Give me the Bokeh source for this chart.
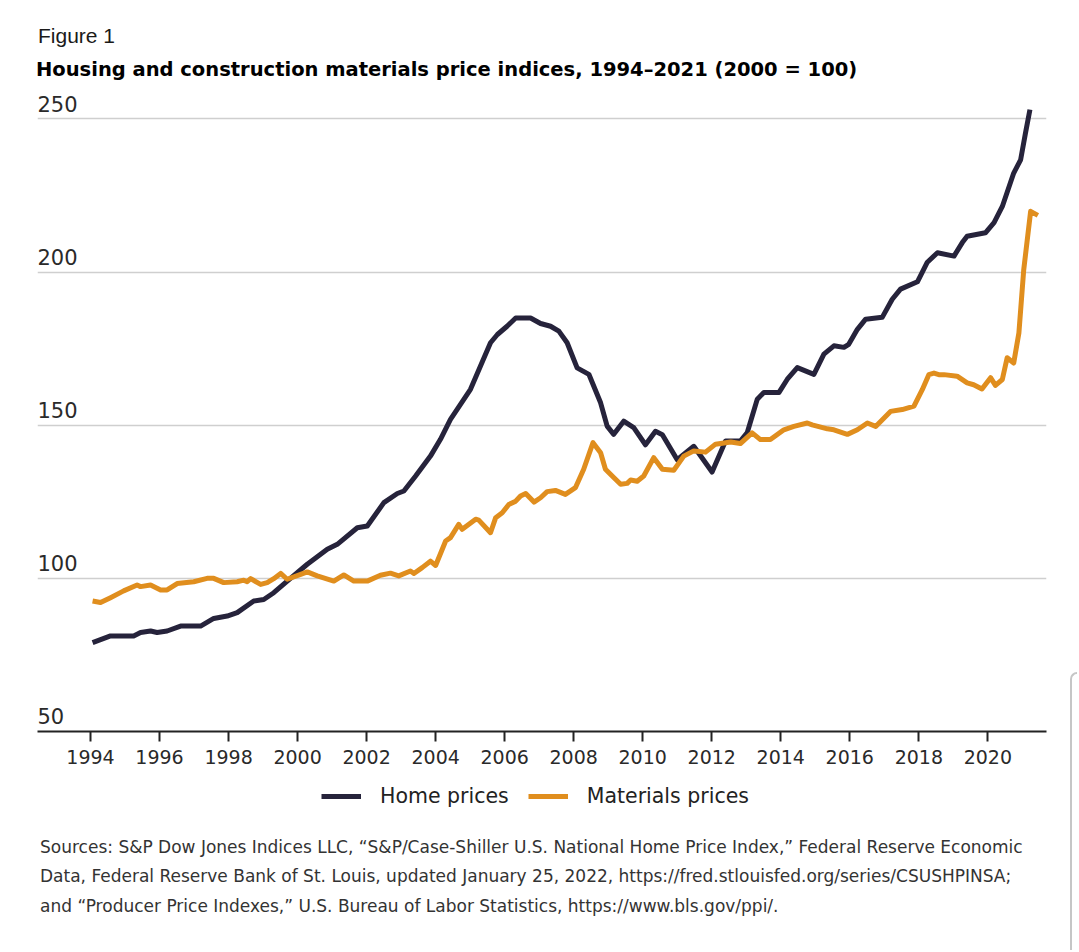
from bokeh.plotting import figure
from bokeh.models import Div, Range1d, FixedTicker, Legend, LegendItem, ColumnDataSource
from bokeh.layouts import column
from bokeh.core.properties import value
from bokeh.embed import file_html
from bokeh.resources import INLINE

# ---------------- data ----------------
home_years = [1994.06, 1994.58, 1995.25, 1995.45, 1995.74, 1995.93, 1996.22, 1996.61, 1997.19, 1997.57,
              1997.96, 1998.25, 1998.73, 1999.02, 1999.31, 1999.70, 2000.28, 2000.86, 2001.15, 2001.73,
              2002.02, 2002.50, 2002.89, 2003.08, 2003.42, 2003.85, 2004.14, 2004.43, 2004.72, 2005.01,
              2005.30, 2005.59, 2005.79, 2006.07, 2006.32, 2006.75, 2007.04, 2007.33, 2007.57, 2007.81,
              2008.10, 2008.44, 2008.78, 2008.97, 2009.16, 2009.45, 2009.74, 2010.08, 2010.37, 2010.57,
              2011.00, 2011.48, 2012.01, 2012.40, 2012.83, 2013.03, 2013.32, 2013.51, 2013.95, 2014.19,
              2014.48, 2014.96, 2015.25, 2015.54, 2015.83, 2015.97, 2016.22, 2016.46, 2016.94, 2017.23,
              2017.47, 2017.96, 2018.24, 2018.54, 2019.02, 2019.26, 2019.40, 2019.93, 2020.18, 2020.42,
              2020.75, 2020.95, 2021.09, 2021.22]
home_prices = [79.0, 81.2, 81.2, 82.3, 82.8, 82.3, 82.8, 84.4, 84.4, 86.9,
               87.7, 88.8, 92.6, 93.1, 95.3, 99.1, 104.6, 109.5, 111.1, 116.5,
               117.1, 124.7, 127.7, 128.5, 133.4, 139.9, 145.4, 151.9, 156.8, 161.7,
               169.3, 176.9, 179.6, 182.3, 185.0, 185.0, 183.2, 182.3, 180.7, 176.9,
               168.7, 166.6, 157.3, 149.7, 147.0, 151.3, 149.2, 143.6, 148.0, 146.9,
               138.7, 143.1, 134.7, 144.8, 144.8, 147.6, 158.5, 160.7, 160.7, 165.0,
               168.8, 166.6, 173.2, 175.9, 175.4, 176.4, 181.3, 184.6, 185.2, 191.1,
               194.4, 196.8, 203.1, 206.3, 205.2, 209.6, 211.7, 212.8, 216.1, 221.4,
               232.3, 236.6, 245.3, 253.0]

mat_years = [1994.06, 1994.29, 1994.58, 1994.96, 1995.35, 1995.45, 1995.74, 1996.03, 1996.22, 1996.51,
             1996.99, 1997.38, 1997.57, 1997.86, 1998.25, 1998.44, 1998.54, 1998.64, 1998.93, 1999.12,
             1999.31, 1999.51, 1999.70, 2000.09, 2000.28, 2000.57, 2001.05, 2001.34, 2001.63, 2002.02,
             2002.40, 2002.69, 2002.93, 2003.27, 2003.37, 2003.61, 2003.85, 2004.00, 2004.29, 2004.43,
             2004.67, 2004.77, 2005.16, 2005.25, 2005.59, 2005.74, 2005.93, 2006.12, 2006.32, 2006.46,
             2006.61, 2006.85, 2007.04, 2007.23, 2007.47, 2007.76, 2008.05, 2008.29, 2008.56, 2008.78,
             2008.92, 2009.16, 2009.36, 2009.55, 2009.65, 2009.84, 2010.03, 2010.32, 2010.57, 2010.90,
             2011.19, 2011.48, 2011.82, 2012.11, 2012.55, 2012.83, 2013.17, 2013.41, 2013.70, 2014.09,
             2014.38, 2014.77, 2014.91, 2015.35, 2015.54, 2015.93, 2016.22, 2016.51, 2016.75, 2017.18,
             2017.52, 2017.86, 2018.10, 2018.29, 2018.44, 2018.58, 2018.73, 2019.11, 2019.40, 2019.59,
             2019.83, 2020.08, 2020.22, 2020.42, 2020.56, 2020.75, 2020.90, 2021.04, 2021.24, 2021.45]
mat_prices = [92.6, 92.1, 93.7, 95.9, 97.8, 97.3, 97.8, 96.2, 96.2, 98.3,
              98.9, 100.0, 100.0, 98.6, 98.9, 99.4, 98.9, 99.9, 98.0, 98.6,
              99.9, 101.6, 99.7, 101.3, 102.1, 100.8, 99.1, 101.1, 99.1, 99.1,
              101.0, 101.7, 100.8, 102.4, 101.6, 103.5, 105.6, 104.2, 112.2, 113.3,
              117.6, 116.0, 119.3, 119.0, 114.9, 119.8, 121.4, 124.1, 125.2, 126.9,
              127.7, 124.9, 126.3, 128.3, 128.7, 127.4, 129.6, 135.6, 144.3, 141.0,
              135.6, 132.9, 130.7, 131.0, 132.1, 131.7, 133.4, 139.4, 135.6, 135.3,
              139.9, 141.6, 141.2, 143.8, 144.5, 144.0, 147.5, 145.3, 145.3, 148.5,
              149.6, 150.7, 150.1, 148.8, 148.5, 147.0, 148.5, 150.7, 149.6, 154.5,
              155.1, 156.2, 161.6, 166.5, 167.0, 166.5, 166.5, 166.0, 163.8, 163.2,
              161.8, 165.5, 163.0, 164.9, 172.0, 170.3, 180.1, 200.7, 219.8, 218.5]

x_ticks = [1994, 1996, 1998, 2000, 2002, 2004, 2006, 2008, 2010, 2012, 2014, 2016, 2018, 2020]
y_ticks = [50, 100, 150, 200, 250]
series_names = ["Home prices", "Materials prices"]
series_colors = ["#26233b", "#e08e1e"]

fig_label = "Figure 1"
title_text = "Housing and construction materials price indices, 1994\u20132021 (2000 = 100)"
source_lines = [
    "Sources: S&amp;P Dow Jones Indices LLC, \u201cS&amp;P/Case-Shiller U.S. National Home Price Index,\u201d Federal Reserve Economic",
    "Data, Federal Reserve Bank of St. Louis, updated January 25, 2022, https://fred.stlouisfed.org/series/CSUSHPINSA;",
    "and \u201cProducer Price Indexes,\u201d U.S. Bureau of Labor Statistics, https://www.bls.gov/ppi/.",
]

# ---------------- layout ----------------
W = 1079
X0, X1 = 1992.464, 2021.70
Y0, Y1 = 50, 258.6
FRAME_H = 639
PX_PER_UNIT = FRAME_H / (Y1 - Y0)

header = Div(width=W, height=92, styles={"margin": "0", "padding": "0"}, text=(
    '<div style="position:relative;width:%dpx;height:92px;">'
    '<div style="position:absolute;left:38px;top:24.8px;font-family:\'Liberation Sans\';font-size:21px;'
    'line-height:21px;color:#1a1a1a;white-space:nowrap;">%s</div>'
    '<div style="position:absolute;left:36px;top:60.4px;font-family:\'DejaVu Sans\';font-weight:bold;'
    'font-size:19.5px;line-height:19.5px;color:#000;white-space:nowrap;">%s</div>'
    '</div>') % (W, fig_label, title_text))

p = figure(width=W, height=FRAME_H + 44, x_range=Range1d(X0, X1), y_range=Range1d(Y0, Y1),
           output_backend="svg", toolbar_location=None, y_axis_location=None,
           min_border_left=37, min_border_right=33, min_border_top=0, min_border_bottom=44)
p.outline_line_color = None
p.background_fill_color = "white"
p.border_fill_color = "white"
p.xgrid.visible = False
p.ygrid.ticker = FixedTicker(ticks=[t for t in y_ticks if t > Y0])
p.ygrid.grid_line_color = "#cfcfcf"
p.ygrid.grid_line_width = 1.6

ax = p.xaxis[0]
ax.ticker = FixedTicker(ticks=x_ticks)
ax.axis_line_color = "#222222"
ax.axis_line_width = 2
ax.major_tick_line_color = "#222222"
ax.major_tick_line_width = 2
ax.major_tick_in = 0
ax.major_tick_out = 10
ax.minor_tick_line_color = None
ax.major_label_standoff = 8
ax.major_label_text_font = "DejaVu Sans"
ax.major_label_text_font_size = "19px"
ax.major_label_text_color = "#2a2a2a"

# y tick labels sitting just above their gridlines, left aligned
label_lift = 8.3 / PX_PER_UNIT
ysrc = ColumnDataSource(dict(x=[X0] * len(y_ticks), y=[v + label_lift for v in y_ticks],
                             t=[str(v) for v in y_ticks]))
p.text(x="x", y="y", text="t", source=ysrc, text_align="left", text_baseline="alphabetic",
       y_offset=-7, text_font=value("DejaVu Sans"), text_font_size="21px", text_color="#2a2a2a")

p.line(home_years, home_prices, line_color=series_colors[0], line_width=5, line_join="round")
p.line(mat_years, mat_prices, line_color=series_colors[1], line_width=5, line_join="round")

# legend strip below the axis (its lines are clipped out of view; only the legend shows)
lf = figure(width=W, height=50, x_range=Range1d(0, 1), y_range=Range1d(0, 1),
            output_backend="svg", toolbar_location=None, x_axis_location=None, y_axis_location=None,
            min_border_left=0, min_border_right=0, min_border_top=0, min_border_bottom=0)
lf.outline_line_color = None
lf.xgrid.visible = False
lf.ygrid.visible = False
lr_home = lf.line(home_years, home_prices, line_color=series_colors[0], line_width=5)
lr_mat = lf.line(mat_years, mat_prices, line_color=series_colors[1], line_width=5)
legend = Legend(items=[LegendItem(label=series_names[0], renderers=[lr_home]),
                       LegendItem(label=series_names[1], renderers=[lr_mat])],
                orientation="horizontal", location=(284, 17),
                border_line_color=None, background_fill_alpha=0,
                label_text_font="DejaVu Sans", label_text_font_size="20.5px", label_text_color="#222222",
                glyph_width=40, glyph_height=20, label_standoff=19, spacing=19,
                padding=6, margin=0)
lf.add_layout(legend, "center")

sources = Div(width=W, height=127, styles={"margin": "0", "padding": "0", "overflow": "visible"}, text=(
    '<div style="position:relative;width:%dpx;height:127px;">'
    '<div style="position:absolute;left:40px;top:7.5px;font-family:\'DejaVu Sans\';font-size:17px;'
    'line-height:29.7px;color:#333;white-space:nowrap;">%s</div>'
    '<div style="position:absolute;left:1070px;top:-153px;width:7px;height:278px;'
    'border-left:2px solid #c6c6c6;border-top:2px solid #c6c6c6;border-top-left-radius:9px;"></div>'
    '</div>') % (W, "<br>".join(source_lines)))

layout = column(header, p, lf, sources, spacing=0)
open("out.html", "w", encoding="utf-8").write(file_html(layout, INLINE))
